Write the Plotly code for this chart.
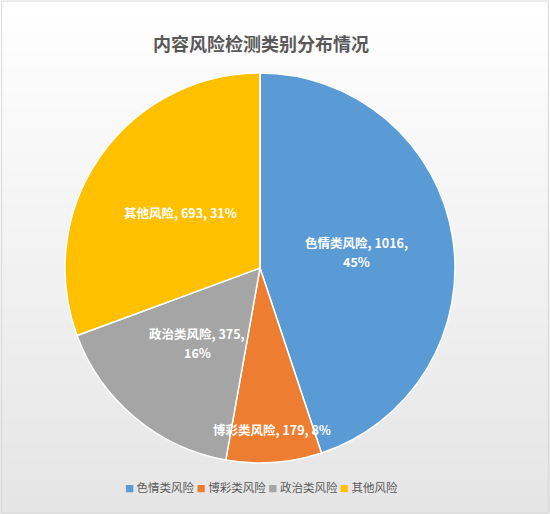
#!/usr/bin/env python3
import math
import plotly.graph_objects as go

# 数据
categories = ['色情类风险', '博彩类风险', '政治类风险', '其他风险']
counts = [1016, 179, 375, 693]
percent_labels = [45, 8, 16, 31]  # 图中显示的百分比
colors = ['#5B9BD5', '#ED7D31', '#A5A5A5', '#FFC000']

# 标签样式 (半径比例, 是否换行)
label_radius = [0.5, 0.83, 0.5, 0.5]
label_break = [True, False, True, False]

W, H = 550, 514
cx, cy, R = 260, 268, 195  # 饼图中心/半径 (像素)
FONT = 'Noto Sans CJK SC'
LINE = 19  # 标签行距 (像素)

fig = go.Figure()

fig.add_trace(go.Pie(
    labels=categories, values=counts, sort=False, direction='clockwise',
    rotation=0, textinfo='none', hoverinfo='label+value+percent', showlegend=False,
    marker=dict(colors=colors, line=dict(color='white', width=1.5)),
    domain=dict(x=[(cx - R) / W, (cx + R) / W], y=[1 - (cy + R) / H, 1 - (cy - R) / H]),
))

# 数据标签 (根据扇区中点角度计算位置)
total = sum(counts)
cum = 0
for name, v, pct, rf, br in zip(categories, counts, percent_labels, label_radius, label_break):
    mid = (cum + v / 2) / total * 2 * math.pi
    cum += v
    lx = (cx + rf * R * math.sin(mid)) / W
    ly = 1 - (cy - rf * R * math.cos(mid)) / H
    lines = [f'{name}, {v},', f'{pct}%'] if br else [f'{name}, {v}, {pct}%']
    for k, line in enumerate(lines):
        shift = (len(lines) - 1) / 2 * LINE - k * LINE
        fig.add_annotation(
            x=lx, y=ly, yshift=shift, xref='paper', yref='paper',
            xanchor='center', yanchor='middle', showarrow=False,
            text=f'<b>{line}</b>',
            font=dict(color='white', size=12.5, family=FONT),
        )

# 图例 (色块 + 名称)
legend_text = ' '.join(
    f"<span style='color:{c};font-size:9px'>■</span> {n}" for n, c in zip(categories, colors)
)
fig.add_annotation(
    x=261 / W, y=1 - 487 / H, xref='paper', yref='paper', xanchor='center', yanchor='middle',
    showarrow=False, text=legend_text, font=dict(size=11.5, color='#595959', family=FONT),
)

# 背景渐变 (白 -> 浅灰)
n = 60
for i in range(n):
    t = i / (n - 1)
    g = int(round(255 - t * (255 - 229)))
    fig.add_shape(type='rect', xref='paper', yref='paper', layer='below',
                  x0=0, x1=1, y0=1 - (i + 1) / n, y1=1 - i / n + 0.002,
                  line=dict(width=0), fillcolor=f'rgb({g},{g},{g})')
fig.add_shape(type='rect', xref='paper', yref='paper', x0=0.003, x1=0.997, y0=0.002, y1=0.998,
              line=dict(color='#D9D9D9', width=1), fillcolor='rgba(0,0,0,0)')

fig.update_layout(
    width=W, height=H,
    margin=dict(l=0, r=0, t=0, b=0),
    paper_bgcolor='white',
    font=dict(family=FONT, color='#595959'),
    title=dict(text='<b>内容风险检测类别分布情况</b>', x=261 / W, xanchor='center',
               y=1 - 45 / H, yanchor='middle', font=dict(size=18, color='#595959')),
    showlegend=False,
)

fig.write_html('out.html', config={'displayModeBar': False},
               post_script="document.body.style.margin='0';")
